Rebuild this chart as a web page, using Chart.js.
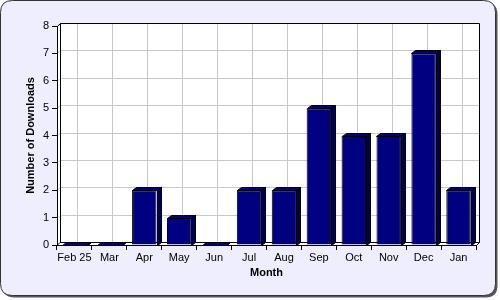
<!DOCTYPE html>
<html>
<head>
<meta charset="utf-8">
<script src="https://cdn.jsdelivr.net/npm/chart.js@4"></script>
<style>
  html, body { margin: 0; background: #fff; }
  #wrap { width: 500px; height: 300px; }
</style>
</head>
<body>
<div id="wrap"><canvas id="chart"></canvas></div>
<script>
const months = ['Feb 25', 'Mar', 'Apr', 'May', 'Jun', 'Jul', 'Aug', 'Sep', 'Oct', 'Nov', 'Dec', 'Jan'];
const downloads = [0, 0, 2, 1, 0, 2, 2, 5, 4, 4, 7, 2];
const yMax = 8;

const DEPTH = 3;

function roundRect(ctx, x, y, w, h, r) {
  ctx.beginPath();
  ctx.moveTo(x + r, y);
  ctx.lineTo(x + w - r, y);
  ctx.quadraticCurveTo(x + w, y, x + w, y + r);
  ctx.lineTo(x + w, y + h - r);
  ctx.quadraticCurveTo(x + w, y + h, x + w - r, y + h);
  ctx.lineTo(x + r, y + h);
  ctx.quadraticCurveTo(x, y + h, x, y + h - r);
  ctx.lineTo(x, y + r);
  ctx.quadraticCurveTo(x, y, x + r, y);
  ctx.closePath();
}

// panel background, back wall, grid and floor
const backdrop = {
  id: 'backdrop',
  beforeDraw(chart) {
    const ctx = chart.ctx;
    const { left, right, top, bottom } = chart.chartArea;
    const d = DEPTH;
    ctx.save();
    // shadow + panel
    roundRect(ctx, 2.5, 2.5, 495, 295, 12);
    ctx.fillStyle = '#555';
    ctx.fill();
    roundRect(ctx, 0.5, 0.5, 495, 295, 12);
    ctx.fillStyle = '#eeeeff';
    ctx.fill();
    ctx.strokeStyle = '#333';
    ctx.lineWidth = 1;
    ctx.stroke();

    // wall
    ctx.beginPath();
    ctx.moveTo(left, top);
    ctx.lineTo(left + d, top - d);
    ctx.lineTo(right + d, top - d);
    ctx.lineTo(right + d, bottom - d);
    ctx.lineTo(right, bottom);
    ctx.lineTo(left, bottom);
    ctx.closePath();
    ctx.fillStyle = '#fff';
    ctx.fill();

    // grid on back wall
    ctx.strokeStyle = '#c8c8c8';
    ctx.lineWidth = 1;
    const ys = chart.scales.y;
    ys.ticks.forEach(t => {
      const y = Math.round(ys.getPixelForValue(t.value)) + 0.5;
      ctx.beginPath();
      ctx.moveTo(left, y);
      ctx.lineTo(left + d, y - d);
      ctx.lineTo(right + d, y - d);
      ctx.stroke();
    });
    const xs = chart.scales.x;
    months.forEach((m, i) => {
      const x = Math.round(xs.getPixelForValue(i)) + d + 0.5;
      ctx.beginPath();
      ctx.moveTo(x, top - d);
      ctx.lineTo(x, bottom - d);
      ctx.stroke();
    });

    // wall frame
    ctx.strokeStyle = '#000';
    ctx.beginPath();
    ctx.moveTo(left + 0.5, top + 0.5);
    ctx.lineTo(left + d + 0.5, top - d + 0.5);
    ctx.lineTo(right + d + 0.5, top - d + 0.5);
    ctx.lineTo(right + d + 0.5, bottom - d + 0.5);
    ctx.stroke();
    ctx.beginPath();
    ctx.moveTo(left + d + 0.5, top - d + 0.5);
    ctx.lineTo(left + d + 0.5, bottom - d + 0.5);
    ctx.stroke();

    // floor
    ctx.beginPath();
    ctx.moveTo(left, bottom + 0.5);
    ctx.lineTo(left + d, bottom - d + 0.5);
    ctx.lineTo(right + d + 0.5, bottom - d + 0.5);
    ctx.lineTo(right + 0.5, bottom + 0.5);
    ctx.closePath();
    ctx.fillStyle = '#fff';
    ctx.fill();
    ctx.stroke();
    ctx.restore();
  }
};

// top and side faces of the bars
const bars3d = {
  id: 'bars3d',
  afterDatasetsDraw(chart) {
    const ctx = chart.ctx;
    const d = DEPTH + 1;
    ctx.save();
    ctx.strokeStyle = '#000';
    ctx.lineWidth = 1;
    chart.getDatasetMeta(0).data.forEach(bar => {
      const { x, y, base, width } = bar.getProps(['x', 'y', 'base', 'width'], true);
      const l = Math.round(x - width / 2) + 0.5;
      const r = Math.round(x + width / 2) + 0.5;
      const t = Math.round(y) + 0.5;
      const b = Math.round(base) + 0.5;
      // top face
      ctx.beginPath();
      ctx.moveTo(l, t);
      ctx.lineTo(l + d, t - d + 1);
      ctx.lineTo(r + d, t - d + 1);
      ctx.lineTo(r, t);
      ctx.closePath();
      ctx.fillStyle = '#000080';
      ctx.fill();
      ctx.stroke();
      // side face
      ctx.beginPath();
      ctx.moveTo(r, t);
      ctx.lineTo(r + d, t - d + 1);
      ctx.lineTo(r + d, b - d + 1);
      ctx.lineTo(r, b);
      ctx.closePath();
      ctx.fillStyle = '#000050';
      ctx.fill();
      ctx.stroke();
    });
    ctx.restore();
  }
};

const tickFont = { family: 'Liberation Sans, Arial, sans-serif', size: 11 };
const titleFont = { family: 'Liberation Sans, Arial, sans-serif', size: 11, weight: 'bold' };

new Chart(document.getElementById('chart'), {
  type: 'bar',
  data: {
    labels: months,
    datasets: [{
      label: 'Downloads',
      data: downloads,
      backgroundColor: '#000080',
      borderColor: '#000',
      borderWidth: 1,
      barPercentage: 0.7,
      categoryPercentage: 1
    }]
  },
  options: {
    responsive: true,
    maintainAspectRatio: false,
    animation: false,
    layout: { padding: { left: 0, top: 26, right: 24, bottom: 0 } },
    plugins: { legend: { display: false }, tooltip: { enabled: false } },
    scales: {
      x: {
        afterFit: s => { s.height = 55; },
        grid: { drawOnChartArea: false, color: '#000', tickLength: 5 },
        border: { color: '#000' },
        ticks: { color: '#000', font: tickFont, padding: 1, maxRotation: 0, autoSkip: false },
        title: { display: true, text: 'Month', color: '#000', font: titleFont, padding: { top: 0, bottom: 20 } }
      },
      y: {
        min: 0,
        max: yMax,
        afterFit: s => { s.width = 57; },
        grid: { drawOnChartArea: false, color: '#000', tickLength: 5 },
        border: { color: '#000' },
        ticks: { color: '#000', font: tickFont, stepSize: 1, padding: 3 },
        title: { display: true, text: 'Number of Downloads', color: '#000', font: titleFont, padding: { top: 24, bottom: 0 } }
      }
    }
  },
  plugins: [backdrop, bars3d]
});
</script>
</body>
</html>
